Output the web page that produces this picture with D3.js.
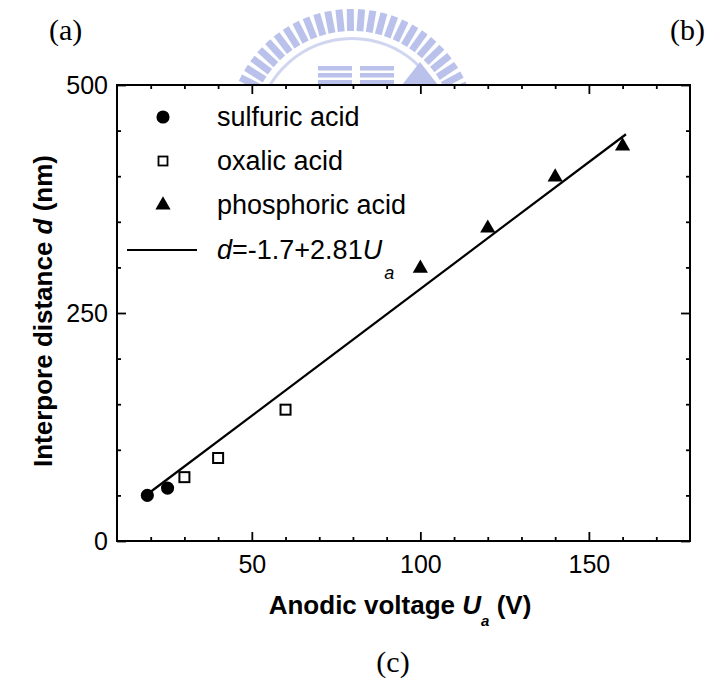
<!DOCTYPE html>
<html>
<head>
<meta charset="utf-8">
<script src="https://cdn.jsdelivr.net/npm/d3@7"></script>
<style>
  body { margin: 0; background: #fff; }
  svg { display: block; }
</style>
</head>
<body>
<script>
// interpore distance vs anodic voltage

const sulfuricU = [19, 25];
const sulfuricD = [50, 58];
const oxalicU = [30, 40, 60];
const oxalicD = [70, 91, 144];
const phosphoricU = [100, 120, 140, 160];
const phosphoricD = [299, 343, 399, 433];
const fitU = [20, 161];
const fitD = [54, 446];

const xMajorTicks = [50, 100, 150];
const xMinorTicks = [20, 30, 40, 60, 70, 80, 90, 110, 120, 130, 140, 160, 170];
const yMajorTicks = [0, 250, 500];
const yMinorTicks = [50, 100, 150, 200, 300, 350, 400, 450];
const legendNames = ["sulfuric acid", "oxalic acid", "phosphoric acid"];

const width = 707;
const height = 695;
const plotL = 117, plotR = 690, plotT = 85, plotB = 541;
const sans = "'Liberation Sans', Arial, Helvetica, sans-serif";
const serif = "'Liberation Serif', 'Times New Roman', serif";

const svg = d3.select("body").append("svg").attr("width", width).attr("height", height);

// faint watermark logo behind the top of the plot
const wm = svg.append("g").attr("fill", "#aeb8e8").attr("opacity", 0.85);
const wmCx = 352, wmCy = 134, wmR = 125;
d3.range(-84, 85, 5.2).forEach((a) => {
  wm.append("rect")
    .attr("x", -3.5).attr("y", -wmR).attr("width", 7).attr("height", 22)
    .attr("transform", `translate(${wmCx},${wmCy}) rotate(${a})`);
});
wm.append("path")
  .attr("d", d3.arc().innerRadius(94).outerRadius(97).startAngle(-1.45).endAngle(1.45)())
  .attr("transform", `translate(${wmCx},${wmCy})`)
  .attr("fill", "#c9d0ee");
[[318, 66], [318, 73], [318, 80], [360, 66], [360, 73], [360, 80]].forEach((p) => {
  wm.append("rect").attr("x", p[0]).attr("y", p[1]).attr("width", 34).attr("height", 4.5);
});
wm.append("path").attr("d", "M402,85 L420,62 L438,85 Z");

// plot area (white, hides lower part of the watermark)
svg.append("rect")
  .attr("x", plotL).attr("y", plotT).attr("width", plotR - plotL).attr("height", plotB - plotT)
  .attr("fill", "#fff");

const x = d3.scaleLinear().domain([10, 180]).range([plotL, plotR]);
const y = d3.scaleLinear().domain([0, 500]).range([plotB, plotT]);

function styleAxis(g) {
  g.select(".domain").remove();
  g.selectAll(".tick line").attr("stroke", "#000").attr("stroke-width", 1.8);
  g.selectAll("text").attr("font-family", sans).attr("font-size", 25).attr("fill", "#000");
}

// bottom
svg.append("g").attr("transform", `translate(0,${plotB})`)
  .call(d3.axisBottom(x).tickValues(xMajorTicks).tickSizeInner(-9).tickSizeOuter(0).tickPadding(14))
  .call(styleAxis);
svg.append("g").attr("transform", `translate(0,${plotB})`)
  .call(d3.axisBottom(x).tickValues(xMinorTicks).tickSize(-4).tickFormat(""))
  .call(styleAxis);
// top
svg.append("g").attr("transform", `translate(0,${plotT})`)
  .call(d3.axisTop(x).tickValues(xMajorTicks).tickSize(-9).tickFormat(""))
  .call(styleAxis);
svg.append("g").attr("transform", `translate(0,${plotT})`)
  .call(d3.axisTop(x).tickValues(xMinorTicks).tickSize(-4).tickFormat(""))
  .call(styleAxis);
// left
svg.append("g").attr("transform", `translate(${plotL},0)`)
  .call(d3.axisLeft(y).tickValues(yMajorTicks).tickSizeInner(-9).tickSizeOuter(0).tickPadding(9))
  .call(styleAxis);
svg.append("g").attr("transform", `translate(${plotL},0)`)
  .call(d3.axisLeft(y).tickValues(yMinorTicks).tickSize(-4).tickFormat(""))
  .call(styleAxis);
// right
svg.append("g").attr("transform", `translate(${plotR},0)`)
  .call(d3.axisRight(y).tickValues(yMajorTicks).tickSize(-9).tickFormat(""))
  .call(styleAxis);
svg.append("g").attr("transform", `translate(${plotR},0)`)
  .call(d3.axisRight(y).tickValues(yMinorTicks).tickSize(-4).tickFormat(""))
  .call(styleAxis);

// frame
svg.append("rect")
  .attr("x", plotL).attr("y", plotT).attr("width", plotR - plotL).attr("height", plotB - plotT)
  .attr("fill", "none").attr("stroke", "#000").attr("stroke-width", 2);

// fitted line
const fit = fitU.map((u, i) => [u, fitD[i]]);
svg.append("path")
  .datum(fit)
  .attr("d", d3.line().x((d) => x(d[0])).y((d) => y(d[1])))
  .attr("fill", "none").attr("stroke", "#000").attr("stroke-width", 2.2);

// markers
const circle = d3.symbol(d3.symbolCircle, 135);
const tri = d3.symbol(d3.symbolTriangle, 100);

svg.selectAll(".sulf")
  .data(sulfuricU.map((u, i) => [u, sulfuricD[i]]))
  .join("path").attr("class", "sulf")
  .attr("d", circle)
  .attr("transform", (d) => `translate(${x(d[0])},${y(d[1])})`)
  .attr("fill", "#000");

svg.selectAll(".oxal")
  .data(oxalicU.map((u, i) => [u, oxalicD[i]]))
  .join("rect").attr("class", "oxal")
  .attr("x", (d) => x(d[0]) - 5).attr("y", (d) => y(d[1]) - 5)
  .attr("width", 10).attr("height", 10)
  .attr("fill", "#fff").attr("stroke", "#000").attr("stroke-width", 2);

svg.selectAll(".phos")
  .data(phosphoricU.map((u, i) => [u, phosphoricD[i]]))
  .join("path").attr("class", "phos")
  .attr("d", tri)
  .attr("transform", (d) => `translate(${x(d[0])},${y(d[1])})`)
  .attr("fill", "#000");

// legend
const lgX = 163, lgText = 217;
const lgY = [117, 161, 205, 250];
const legend = svg.append("g");
legend.append("path").attr("d", circle).attr("transform", `translate(${lgX},${lgY[0]})`).attr("fill", "#000");
legend.append("rect").attr("x", lgX - 4.5).attr("y", lgY[1] - 4.5).attr("width", 9).attr("height", 9)
  .attr("fill", "#fff").attr("stroke", "#000").attr("stroke-width", 1.8);
legend.append("path").attr("d", tri).attr("transform", `translate(${lgX},${lgY[2]})`).attr("fill", "#000");
legend.append("line").attr("x1", 127).attr("x2", 197).attr("y1", lgY[3]).attr("y2", lgY[3])
  .attr("stroke", "#000").attr("stroke-width", 2);

legendNames.forEach((name, i) => {
  legend.append("text").attr("x", lgText).attr("y", lgY[i] + 9)
    .attr("font-family", sans).attr("font-size", 27).text(name);
});
const eq = legend.append("text").attr("x", lgText).attr("y", lgY[3] + 9)
  .attr("font-family", sans).attr("font-size", 27);
eq.append("tspan").attr("font-style", "italic").text("d");
eq.append("tspan").text("=-1.7+2.81");
eq.append("tspan").attr("font-style", "italic").text("U");
eq.append("tspan").attr("font-style", "italic").attr("font-size", 18).attr("dx", 2).attr("dy", 20).text("a");

// axis titles
const xt = svg.append("text").attr("x", 400).attr("y", 614).attr("text-anchor", "middle")
  .attr("font-family", sans).attr("font-size", 26).attr("font-weight", "bold");
xt.append("tspan").text("Anodic voltage ");
xt.append("tspan").attr("font-style", "italic").text("U");
xt.append("tspan").attr("font-style", "italic").attr("font-size", 15).attr("dy", 12).text("a");
xt.append("tspan").attr("dy", -12).text(" (V)");

const yt = svg.append("text").attr("transform", "translate(52,311) rotate(-90)").attr("text-anchor", "middle")
  .attr("font-family", sans).attr("font-size", 26).attr("font-weight", "bold");
yt.append("tspan").text("Interpore distance ");
yt.append("tspan").attr("font-style", "italic").text("d");
yt.append("tspan").text(" (nm)");

// panel letters
svg.append("text").attr("x", 49).attr("y", 40).attr("font-family", serif).attr("font-size", 30).text("(a)");
svg.append("text").attr("x", 705).attr("y", 40).attr("text-anchor", "end").attr("font-family", serif).attr("font-size", 30).text("(b)");
svg.append("text").attr("x", 393).attr("y", 672).attr("text-anchor", "middle").attr("font-family", serif).attr("font-size", 30).text("(c)");
</script>
</body>
</html>
